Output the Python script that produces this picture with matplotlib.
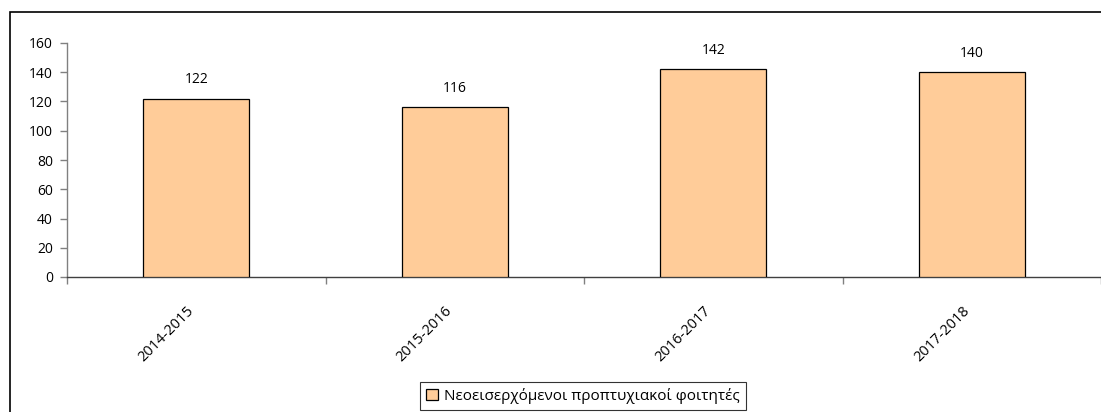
import matplotlib
matplotlib.use("Agg")
import matplotlib.pyplot as plt
from matplotlib.patches import Rectangle, Patch
from matplotlib.transforms import ScaledTranslation

categories = ["2014-2015", "2015-2016", "2016-2017", "2017-2018"]
values = [122, 116, 142, 140]
series_name = "Νεοεισερχόμενοι προπτυχιακοί φοιτητές"
yticks = [0, 20, 40, 60, 80, 100, 120, 140, 160]

plt.rcParams['font.family'] = ['Open Sans', 'DejaVu Sans']

W, H = 1101, 412
fig = plt.figure(figsize=(W / 100, H / 100), dpi=100)

# outer chart border
top = 1 - 11.5 / H
fig.patches.append(Rectangle((9.5 / W, -0.2), 1.2, top + 0.2,
                             transform=fig.transFigure, fill=False,
                             edgecolor='black', linewidth=1.2, zorder=0))

ax = fig.add_axes([67 / W, 1 - 277 / H, (W - 67) / W, (277 - 43) / H])
x = list(range(len(categories)))
bars = ax.bar(x, values, width=0.41, color='#FFCC99', edgecolor='black',
              linewidth=0.9, zorder=3)
for xi, v in zip(x, values):
    ax.annotate(str(v), (xi, v), xytext=(0, 8), textcoords='offset points',
                ha='center', va='bottom', fontsize=10, color='black')

ax.set_xlim(-0.5, len(categories) - 0.5)
ax.set_ylim(0, 160)
ax.set_yticks(yticks)
ax.set_yticklabels([str(t) for t in yticks], fontsize=10)
ax.set_xticks(x)
ax.set_xticklabels(categories, rotation=45, ha='right', rotation_mode='anchor',
                   fontsize=10.5)
ax.tick_params(axis='x', length=0, pad=19)
off = ScaledTranslation(-10 / 100, 0, fig.dpi_scale_trans)
for lab in ax.get_xticklabels():
    lab.set_transform(lab.get_transform() + off)
ax.set_xticks([i - 0.5 for i in range(len(categories) + 1)], minor=True)
ax.tick_params(axis='x', which='minor', length=5, color='#808080', width=1)
ax.tick_params(axis='y', length=5, color='#808080', width=1, pad=5)
for s in ['top', 'right']:
    ax.spines[s].set_visible(False)
ax.spines['left'].set_color('#808080')
ax.spines['bottom'].set_color('#404040')
ax.spines['left'].set_linewidth(1)
ax.spines['bottom'].set_linewidth(1)
ax.patch.set_alpha(0)

handle = Patch(facecolor='#FFCC99', edgecolor='black', linewidth=0.9)
leg = fig.legend([handle], [series_name], loc='upper center',
                 bbox_to_anchor=(583 / W, 1 - 382 / H), fontsize=11,
                 frameon=True, fancybox=False, edgecolor='black',
                 handlelength=0.75, handleheight=0.75, handletextpad=0.4,
                 borderpad=0.4, borderaxespad=0)
leg.get_frame().set_linewidth(0.8)

fig.savefig("out.png", dpi=100)
